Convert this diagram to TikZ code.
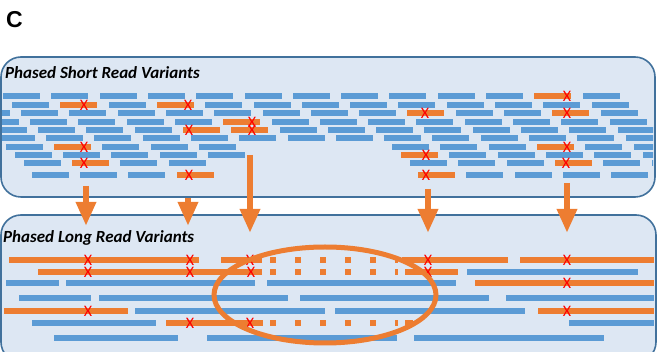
\documentclass[tikz,border=0pt]{standalone}
\usepackage{fontspec}
\setmainfont{Carlito}
\newfontfamily\labelfont{Liberation Sans}
\usetikzlibrary{arrows.meta,shapes.geometric}

\definecolor{readblue}{RGB}{91,155,213}
\definecolor{readorange}{RGB}{237,125,49}
\definecolor{panelfill}{RGB}{221,231,243}
\definecolor{paneledge}{RGB}{65,113,156}

\tikzset{
  panel/.style={draw=paneledge, line width=1.6pt, fill=panelfill, rounded corners=20pt},
  title/.style={anchor=base west, inner sep=0pt, font=\fontsize{17}{17}\selectfont\bfseries\itshape},
  snp/.style={inner sep=0pt, text=red, font=\fontsize{16}{16}\selectfont},
  sread/.style={fill=readblue},
  svar/.style={fill=readorange},
  lread/.style={line width=6pt, draw=readblue},
  lvar/.style={line width=6pt, draw=readorange},
  gap/.style={lvar, dash pattern=on 6pt off 19pt},
  carry/.style={draw=readorange, line width=6pt, -{Triangle[width=19pt,length=24pt]}},
}

\begin{document}
\begin{tikzpicture}[x=1pt, y=-1pt]
  \useasboundingbox (0,0) rectangle (657,352);

  \node [anchor=base west, inner sep=0pt, font=\labelfont\bfseries\fontsize{23}{23}\selectfont] (label) at (6,28) {C};

  % the two panels
  \draw[panel] (1,57) rectangle (655,197);
  \draw[panel] (1,215) rectangle (656,362);
  \node[title] (shorttitle) at (5,79) {Phased Short Read Variants};
  \node[title] (longtitle) at (3,243) {Phased Long Read Variants};

  % short reads: rows on a 48.3 grid
  \begin{scope}
    \clip (2,57) rectangle (653,197);
    \foreach \y/\x/\a/\b in {96/3/0/12, 105/12/-1/12, 113/21/-1/12, 122/30/-1/12,
        130/38/-1/12, 138/46/-1/12, 147/54/-1/3, 147/54/7/12, 155/63/-1/3,
        155/63/7/12, 163/72/-1/2, 163/72/7/12, 175/80/-1/2, 175/80/7/11}
      \foreach \k in {\a,...,\b}
        \fill[sread] ({\x+48.3*\k},{\y-3}) rectangle ++(37,6);
    % reads carrying a variant
    \foreach \y/\x/\k/\c [count=\i] in {96/3/11/567, 105/12/1/84, 105/12/3/188,
        113/21/8/425, 113/21/11/567, 122/30/4/252, 130/38/3/189, 130/38/4/252,
        147/54/0/84, 147/54/10/567, 155/63/7/426, 163/72/0/84, 163/72/10/566,
        175/80/2/189, 175/80/7/426} {
      \fill[svar] ({\x+48.3*\k},{\y-3}) rectangle ++(37,6);
      \node[snp] (s\i) at (\c,\y) {X};
    }
  \end{scope}

  % long reads
  \begin{scope}
    \clip (2,215) rectangle (654,352);
    \foreach \a/\b/\y in {467/638/272, 6/59/283, 66/255/283, 267/456/283,
        19/91/298, 99/288/298, 300/489/298, 506/654/298, 135/325/311,
        335/525/311, 32/156/323, 569/654/323, 54/178/338, 207/397/338, 414/604/338}
      \draw[lread] (\a,\y) -- (\b,\y);
    \foreach \a/\b/\y in {9/199/260, 221/262/260, 402/508/260, 520/654/260,
        38/262/272, 405/458/272, 475/654/283, 4/128/311, 538/654/311,
        166/263/323, 405/413/323}
      \draw[lvar] (\a,\y) -- (\b,\y);
    % unresolved stretch
    \foreach \y in {260,272,323}
      \draw[gap] (270,\y) -- (398,\y);
    \foreach \c/\y [count=\i] in {88/260, 190/260, 250/260, 428/260, 567/260,
        88/272, 190/272, 251/272, 428/272, 567/283, 88/311, 567/311, 190/323, 250/323}
      \node[snp] (l\i) at (\c,\y) {X};
  \end{scope}

  \node[draw=readorange, line width=5pt, ellipse, minimum width=222pt, minimum height=96pt] (window) at (325,295) {};

  % arrows from short to long reads
  \foreach \x/\s/\t [count=\i] in {86/186/226, 188/198/226, 250/155/233, 428/189/233, 567/183/233} {
    \coordinate (from\i) at (\x,\s);
    \coordinate (to\i) at (\x,\t);
    \draw[carry] (from\i) -- (to\i);
  }
\end{tikzpicture}
\end{document}
